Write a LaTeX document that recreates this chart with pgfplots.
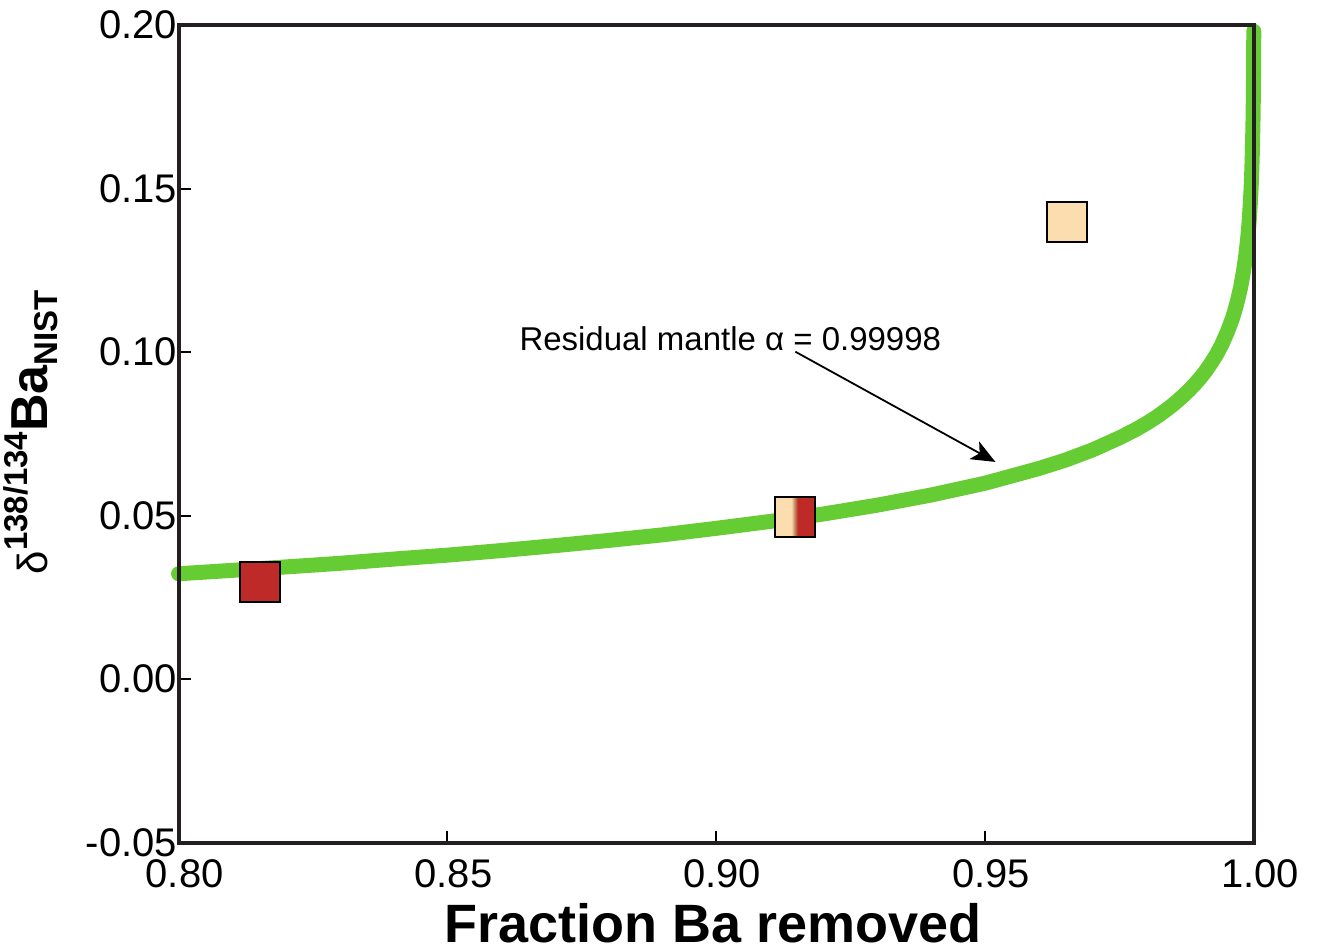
\documentclass[border=0pt]{standalone}
\usepackage{fontspec}
\setmainfont{Liberation Sans}
\usepackage{pgfplots}
\pgfplotsset{compat=1.18}
\usetikzlibrary{arrows.meta}

\definecolor{curvegreen}{HTML}{66CC33}
\definecolor{sqred}{HTML}{BE2A28}
\definecolor{sqlight}{HTML}{FCDDB0}
\definecolor{sqtan}{HTML}{C08A62}
\definecolor{framecol}{HTML}{231F20}

% half light, half red square (mixed sample)
\pgfdeclarehorizontalshading{splitsq}{100bp}{color(0bp)=(sqlight); color(45bp)=(sqlight); color(49bp)=(sqtan); color(53bp)=(sqred); color(100bp)=(sqred)}
\pgfdeclareplotmark{splitsquare}{%
  \pgfpathrectangle{\pgfpoint{-\pgfplotmarksize}{-\pgfplotmarksize}}{\pgfpoint{2\pgfplotmarksize}{2\pgfplotmarksize}}%
  \pgfshadepath{splitsq}{0}%
  \pgfusepath{stroke}}

\begin{document}
\begin{tikzpicture}
\begin{axis}[
    scale only axis,
    width=1076pt, height=818pt,
    xmin=0.80, xmax=1.00,
    ymin=-0.05, ymax=0.20,
    xtick={0.80,0.85,0.90,0.95,1.00},
    ytick={-0.05,0,0.05,0.10,0.15,0.20},
    scaled ticks=false,
    tick pos=left,
    tick align=inside,
    major tick length=12pt,
    every tick/.style={black, line width=2pt},
    axis line style={framecol, line width=4pt},
    ticklabel style={font=\fontsize{40}{40}\selectfont,
        /pgf/number format/fixed, /pgf/number format/fixed zerofill,
        /pgf/number format/precision=2},
    /pgf/number format/assume math mode=true,
    yticklabel style={xshift=2pt},
    xticklabel style={yshift=-13pt, xshift=6pt},
    clip=false,
    axis on top,
]
% bounding box of the whole figure
\path[draw=none] (rel axis cs:-0.1654,-0.1296) rectangle (rel axis cs:1.0604,1.0306);

% residual mantle Rayleigh curve
\addplot[curvegreen, line width=15pt, line cap=round, line join=round] coordinates {
    (0.80,0.0322) (0.82,0.0343) (0.83,0.0354) (0.84,0.0367) (0.85,0.0379)
    (0.86,0.0393) (0.87,0.0408) (0.88,0.0424) (0.89,0.0441) (0.90,0.0461)
    (0.91,0.0482) (0.92,0.0505) (0.93,0.0532) (0.94,0.0563) (0.95,0.0599)
    (0.96,0.0644) (0.965,0.0670) (0.97,0.0701) (0.975,0.0738) (0.978,0.0763)
    (0.98,0.0782) (0.982,0.0803) (0.984,0.0827) (0.985,0.0840) (0.986,0.0854)
    (0.987,0.0869) (0.988,0.0885) (0.989,0.0902) (0.99,0.0921) (0.991,0.0942)
    (0.992,0.0966) (0.993,0.0992) (0.994,0.1023) (0.995,0.1060) (0.996,0.1104)
    (0.9965,0.1131) (0.997,0.1162) (0.9975,0.1198) (0.998,0.1243) (0.9985,0.1300)
    (0.9988,0.1345) (0.999,0.1382) (0.9991,0.1403) (0.9993,0.1453) (0.9994,0.1484)
    (0.9995,0.1520) (0.9996,0.1565) (0.9997,0.1622) (0.9998,0.1703) (0.99985,0.1761)
    (0.9999,0.1842) (0.99992,0.1887) (0.99995,0.1981)
};

% samples
\addplot[only marks, mark=square*, mark size=20pt,
    mark options={fill=sqred, draw=black, line width=2pt}] coordinates {(0.8152,0.0298)};
\addplot[only marks, mark=splitsquare, mark size=20pt,
    mark options={draw=black, line width=2pt}] coordinates {(0.9147,0.0496)};
\addplot[only marks, mark=square*, mark size=20pt,
    mark options={fill=sqlight, draw=black, line width=2pt}] coordinates {(0.9652,0.1398)};

% annotation
\node[font=\fontsize{33}{33}\selectfont] at (axis cs:0.9026,0.104) {Residual mantle α = 0.99998};
\draw[black, line width=1.8pt, -{Stealth[length=24pt, width=20pt, inset=6pt]}]
    (axis cs:0.9147,0.1001) -- (axis cs:0.9519,0.0664);

% axis labels
\node[font=\fontsize{54}{54}\selectfont\bfseries, inner sep=0pt] at (rel axis cs:0.497,-0.0985) {Fraction Ba removed};
\node[rotate=90, anchor=base] at (rel axis cs:-0.1217,0.502)
    {{\fontsize{42}{42}\selectfont δ}{\fontsize{33}{33}\selectfont\bfseries\raisebox{0.62em}{138/134}}{\fontsize{52}{52}\selectfont\bfseries Ba}{\fontsize{33}{33}\selectfont\bfseries\raisebox{-0.3em}{NIST}}};
\end{axis}
\end{tikzpicture}
\end{document}
